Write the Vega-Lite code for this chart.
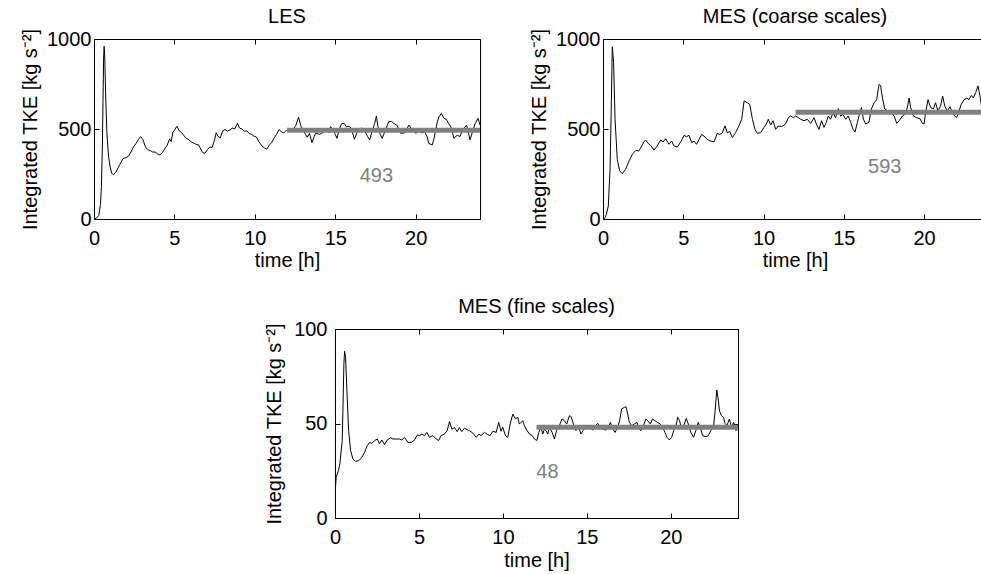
{
  "$schema": "https://vega.github.io/schema/vega-lite/v6.json",
  "padding": {"left": 20, "top": 7, "right": 0, "bottom": 0},
  "datasets": {
    "les": [
      {"t":0,"v":0},{"t":0.15,"v":5},{"t":0.3,"v":20},{"t":0.4,"v":80},{"t":0.46,"v":180},{"t":0.52,"v":400},{"t":0.56,"v":663},{"t":0.6,"v":900},{"t":0.63,"v":960},{"t":0.67,"v":900},{"t":0.72,"v":700},{"t":0.8,"v":480},{"t":0.9,"v":350},{"t":1.0,"v":290},{"t":1.1,"v":255},{"t":1.2,"v":245},{"t":1.35,"v":258},{"t":1.5,"v":285},{"t":1.65,"v":310},{"t":1.8,"v":335},{"t":2.0,"v":342},{"t":2.15,"v":350},{"t":2.3,"v":372},{"t":2.45,"v":400},{"t":2.6,"v":418},{"t":2.75,"v":440},{"t":2.9,"v":458},{"t":3.05,"v":440},{"t":3.2,"v":400},{"t":3.35,"v":385},{"t":3.5,"v":380},{"t":3.65,"v":372},{"t":3.8,"v":372},{"t":3.95,"v":362},{"t":4.1,"v":356},{"t":4.25,"v":368},{"t":4.4,"v":390},{"t":4.55,"v":410},{"t":4.7,"v":445},{"t":4.8,"v":430},{"t":4.9,"v":480},{"t":5.05,"v":500},{"t":5.15,"v":515},{"t":5.3,"v":490},{"t":5.45,"v":480},{"t":5.6,"v":462},{"t":5.75,"v":448},{"t":5.9,"v":440},{"t":6.05,"v":428},{"t":6.2,"v":422},{"t":6.35,"v":415},{"t":6.5,"v":412},{"t":6.6,"v":395},{"t":6.75,"v":370},{"t":6.9,"v":365},{"t":7.05,"v":385},{"t":7.2,"v":400},{"t":7.35,"v":398},{"t":7.5,"v":440},{"t":7.6,"v":480},{"t":7.7,"v":460},{"t":7.85,"v":450},{"t":8.0,"v":490},{"t":8.15,"v":497},{"t":8.3,"v":488},{"t":8.45,"v":495},{"t":8.6,"v":505},{"t":8.75,"v":500},{"t":8.92,"v":532},{"t":9.05,"v":505},{"t":9.2,"v":500},{"t":9.35,"v":488},{"t":9.5,"v":490},{"t":9.65,"v":475},{"t":9.8,"v":470},{"t":9.95,"v":460},{"t":10.1,"v":455},{"t":10.25,"v":430},{"t":10.45,"v":405},{"t":10.6,"v":395},{"t":10.75,"v":388},{"t":10.9,"v":410},{"t":11.05,"v":425},{"t":11.2,"v":450},{"t":11.35,"v":470},{"t":11.5,"v":497},{"t":11.65,"v":485},{"t":11.8,"v":478},{"t":12.0,"v":496},{"t":12.2,"v":494},{"t":12.4,"v":500},{"t":12.55,"v":520},{"t":12.72,"v":565},{"t":12.85,"v":520},{"t":13.0,"v":495},{"t":13.15,"v":470},{"t":13.25,"v":455},{"t":13.4,"v":475},{"t":13.55,"v":424},{"t":13.7,"v":460},{"t":13.8,"v":478},{"t":14.0,"v":470},{"t":14.15,"v":475},{"t":14.3,"v":485},{"t":14.45,"v":500},{"t":14.6,"v":480},{"t":14.7,"v":513},{"t":14.85,"v":500},{"t":15.0,"v":470},{"t":15.11,"v":448},{"t":15.25,"v":500},{"t":15.4,"v":530},{"t":15.55,"v":531},{"t":15.7,"v":512},{"t":15.85,"v":515},{"t":16.0,"v":505},{"t":16.19,"v":443},{"t":16.35,"v":480},{"t":16.5,"v":500},{"t":16.65,"v":505},{"t":16.8,"v":495},{"t":17.0,"v":460},{"t":17.14,"v":439},{"t":17.3,"v":490},{"t":17.45,"v":530},{"t":17.56,"v":572},{"t":17.65,"v":515},{"t":17.8,"v":470},{"t":17.92,"v":448},{"t":18.1,"v":490},{"t":18.33,"v":541},{"t":18.5,"v":542},{"t":18.65,"v":530},{"t":18.85,"v":520},{"t":19.06,"v":476},{"t":19.3,"v":478},{"t":19.45,"v":500},{"t":19.58,"v":522},{"t":19.75,"v":500},{"t":19.9,"v":485},{"t":20.0,"v":476},{"t":20.2,"v":488},{"t":20.4,"v":478},{"t":20.55,"v":485},{"t":20.7,"v":460},{"t":20.82,"v":420},{"t":21.03,"v":411},{"t":21.15,"v":450},{"t":21.24,"v":494},{"t":21.35,"v":540},{"t":21.45,"v":568},{"t":21.6,"v":587},{"t":21.76,"v":559},{"t":21.9,"v":555},{"t":22.05,"v":530},{"t":22.2,"v":510},{"t":22.38,"v":448},{"t":22.5,"v":460},{"t":22.6,"v":465},{"t":22.75,"v":458},{"t":22.9,"v":490},{"t":23.05,"v":510},{"t":23.17,"v":522},{"t":23.3,"v":470},{"t":23.38,"v":439},{"t":23.55,"v":490},{"t":23.7,"v":530},{"t":23.88,"v":559},{"t":24.0,"v":522}
    ],
    "coarse": [
      {"t":0,"v":0},{"t":0.1,"v":3},{"t":0.21,"v":26},{"t":0.33,"v":72},{"t":0.44,"v":276},{"t":0.52,"v":646},{"t":0.58,"v":957},{"t":0.66,"v":869},{"t":0.75,"v":554},{"t":0.89,"v":331},{"t":1.04,"v":267},{"t":1.2,"v":252},{"t":1.41,"v":276},{"t":1.62,"v":322},{"t":1.83,"v":359},{"t":2.04,"v":381},{"t":2.24,"v":378},{"t":2.41,"v":406},{"t":2.55,"v":428},{"t":2.66,"v":439},{"t":2.82,"v":420},{"t":2.97,"v":409},{"t":3.18,"v":383},{"t":3.38,"v":406},{"t":3.59,"v":439},{"t":3.74,"v":428},{"t":3.9,"v":446},{"t":4.11,"v":415},{"t":4.28,"v":433},{"t":4.42,"v":406},{"t":4.63,"v":400},{"t":4.84,"v":428},{"t":5.05,"v":465},{"t":5.19,"v":457},{"t":5.36,"v":465},{"t":5.53,"v":424},{"t":5.67,"v":433},{"t":5.82,"v":415},{"t":5.98,"v":441},{"t":6.15,"v":470},{"t":6.29,"v":461},{"t":6.5,"v":441},{"t":6.71,"v":433},{"t":6.92,"v":428},{"t":7.12,"v":476},{"t":7.27,"v":470},{"t":7.43,"v":478},{"t":7.6,"v":517},{"t":7.75,"v":478},{"t":7.89,"v":487},{"t":8.06,"v":452},{"t":8.27,"v":481},{"t":8.47,"v":517},{"t":8.64,"v":554},{"t":8.79,"v":656},{"t":8.99,"v":646},{"t":9.14,"v":637},{"t":9.31,"v":554},{"t":9.47,"v":498},{"t":9.62,"v":476},{"t":9.82,"v":480},{"t":10.03,"v":509},{"t":10.18,"v":528},{"t":10.3,"v":554},{"t":10.45,"v":522},{"t":10.59,"v":546},{"t":10.76,"v":498},{"t":10.92,"v":517},{"t":11.13,"v":513},{"t":11.38,"v":528},{"t":11.55,"v":563},{"t":11.69,"v":572},{"t":11.86,"v":563},{"t":12.0,"v":572},{"t":12.17,"v":563},{"t":12.32,"v":554},{"t":12.52,"v":546},{"t":12.73,"v":554},{"t":12.94,"v":531},{"t":13.15,"v":563},{"t":13.29,"v":528},{"t":13.46,"v":498},{"t":13.62,"v":546},{"t":13.77,"v":509},{"t":13.91,"v":537},{"t":14.04,"v":572},{"t":14.18,"v":554},{"t":14.33,"v":591},{"t":14.49,"v":563},{"t":14.66,"v":613},{"t":14.81,"v":572},{"t":14.95,"v":581},{"t":15.12,"v":554},{"t":15.28,"v":572},{"t":15.43,"v":537},{"t":15.58,"v":498},{"t":15.7,"v":483},{"t":15.85,"v":537},{"t":15.95,"v":572},{"t":16.1,"v":619},{"t":16.22,"v":554},{"t":16.37,"v":528},{"t":16.57,"v":537},{"t":16.72,"v":611},{"t":16.89,"v":646},{"t":17.05,"v":663},{"t":17.2,"v":748},{"t":17.3,"v":739},{"t":17.41,"v":672},{"t":17.55,"v":611},{"t":17.72,"v":602},{"t":17.93,"v":591},{"t":18.14,"v":572},{"t":18.3,"v":531},{"t":18.45,"v":546},{"t":18.66,"v":572},{"t":18.8,"v":581},{"t":18.96,"v":619},{"t":19.07,"v":672},{"t":19.17,"v":619},{"t":19.34,"v":572},{"t":19.54,"v":563},{"t":19.75,"v":557},{"t":19.9,"v":531},{"t":20.0,"v":528},{"t":20.1,"v":591},{"t":20.25,"v":663},{"t":20.41,"v":619},{"t":20.58,"v":611},{"t":20.72,"v":646},{"t":20.87,"v":600},{"t":21.03,"v":628},{"t":21.16,"v":683},{"t":21.29,"v":628},{"t":21.45,"v":600},{"t":21.62,"v":624},{"t":21.76,"v":591},{"t":21.87,"v":576},{"t":22.03,"v":563},{"t":22.18,"v":600},{"t":22.32,"v":637},{"t":22.49,"v":663},{"t":22.66,"v":672},{"t":22.8,"v":663},{"t":22.95,"v":687},{"t":23.07,"v":672},{"t":23.22,"v":702},{"t":23.36,"v":739},{"t":23.49,"v":683},{"t":23.59,"v":620},{"t":23.7,"v":640}
    ],
    "fine": [
      {"t":0,"v":5},{"t":0.03,"v":16},{"t":0.07,"v":21.5},{"t":0.2,"v":25},{"t":0.29,"v":28.6},{"t":0.43,"v":40.9},{"t":0.49,"v":65},{"t":0.53,"v":81.5},{"t":0.57,"v":88.2},{"t":0.63,"v":85},{"t":0.71,"v":67.4},{"t":0.81,"v":46.2},{"t":0.93,"v":35.6},{"t":1.07,"v":31.2},{"t":1.21,"v":30},{"t":1.41,"v":30.3},{"t":1.6,"v":32.1},{"t":1.76,"v":34.7},{"t":1.92,"v":38.3},{"t":2.06,"v":40},{"t":2.2,"v":39.5},{"t":2.36,"v":41},{"t":2.52,"v":41.8},{"t":2.65,"v":39.2},{"t":2.79,"v":41.3},{"t":2.95,"v":38.8},{"t":3.11,"v":41.3},{"t":3.31,"v":42.4},{"t":3.45,"v":41.8},{"t":3.65,"v":41.8},{"t":3.84,"v":41.8},{"t":3.98,"v":41.3},{"t":4.14,"v":42.7},{"t":4.34,"v":40},{"t":4.54,"v":40},{"t":4.74,"v":41.3},{"t":4.9,"v":43.9},{"t":5.03,"v":43.6},{"t":5.17,"v":44.4},{"t":5.33,"v":43.6},{"t":5.47,"v":45.3},{"t":5.63,"v":42.7},{"t":5.83,"v":43.6},{"t":6.03,"v":41.8},{"t":6.17,"v":41},{"t":6.32,"v":43.6},{"t":6.52,"v":44.4},{"t":6.68,"v":46.2},{"t":6.82,"v":51},{"t":6.96,"v":47},{"t":7.12,"v":47.8},{"t":7.28,"v":45.7},{"t":7.41,"v":47.8},{"t":7.55,"v":45.7},{"t":7.71,"v":47.5},{"t":7.91,"v":46.5},{"t":8.01,"v":46.2},{"t":8.21,"v":44.9},{"t":8.41,"v":42.7},{"t":8.57,"v":44.4},{"t":8.7,"v":43.6},{"t":8.9,"v":45.3},{"t":9.1,"v":44.1},{"t":9.24,"v":43.6},{"t":9.4,"v":45.9},{"t":9.6,"v":45.3},{"t":9.75,"v":50.6},{"t":9.89,"v":45.9},{"t":9.99,"v":48},{"t":10.15,"v":43.6},{"t":10.29,"v":42.7},{"t":10.43,"v":49.7},{"t":10.59,"v":55},{"t":10.75,"v":52.4},{"t":10.88,"v":53.3},{"t":10.98,"v":49.7},{"t":11.08,"v":50.6},{"t":11.18,"v":51.5},{"t":11.28,"v":48.8},{"t":11.42,"v":46.5},{"t":11.58,"v":44.4},{"t":11.74,"v":43.6},{"t":11.88,"v":41.8},{"t":12.02,"v":41},{"t":12.14,"v":45.3},{"t":12.27,"v":48},{"t":12.37,"v":44.4},{"t":12.47,"v":47},{"t":12.57,"v":46.2},{"t":12.67,"v":44.4},{"t":12.77,"v":48},{"t":12.93,"v":45.3},{"t":13.07,"v":41.8},{"t":13.2,"v":46.5},{"t":13.36,"v":48.8},{"t":13.52,"v":52.4},{"t":13.66,"v":51.5},{"t":13.8,"v":49.7},{"t":13.96,"v":54.1},{"t":14.06,"v":53.6},{"t":14.2,"v":49.7},{"t":14.35,"v":46.2},{"t":14.51,"v":48},{"t":14.65,"v":44.4},{"t":14.79,"v":46.5},{"t":14.95,"v":48.8},{"t":15.15,"v":48},{"t":15.35,"v":46.5},{"t":15.51,"v":48.8},{"t":15.65,"v":50.1},{"t":15.78,"v":48},{"t":15.94,"v":47},{"t":16.14,"v":46.5},{"t":16.28,"v":48},{"t":16.4,"v":50.6},{"t":16.54,"v":47},{"t":16.68,"v":45.3},{"t":16.83,"v":48},{"t":16.95,"v":51.5},{"t":17.07,"v":57.7},{"t":17.23,"v":58.5},{"t":17.33,"v":58.9},{"t":17.43,"v":55},{"t":17.53,"v":50.6},{"t":17.67,"v":48.8},{"t":17.82,"v":49.7},{"t":17.98,"v":50.6},{"t":18.12,"v":47},{"t":18.22,"v":46.2},{"t":18.36,"v":48.8},{"t":18.52,"v":52.4},{"t":18.62,"v":51.5},{"t":18.78,"v":49.7},{"t":18.91,"v":52.4},{"t":19.05,"v":51.5},{"t":19.21,"v":50.6},{"t":19.37,"v":49.7},{"t":19.51,"v":48},{"t":19.65,"v":45.3},{"t":19.77,"v":42.7},{"t":19.91,"v":41.3},{"t":20.05,"v":42.7},{"t":20.17,"v":46.2},{"t":20.31,"v":48.8},{"t":20.41,"v":53.3},{"t":20.52,"v":51.5},{"t":20.64,"v":47},{"t":20.8,"v":49.7},{"t":20.92,"v":52.7},{"t":21.04,"v":49.7},{"t":21.19,"v":45.3},{"t":21.35,"v":42.7},{"t":21.49,"v":46.2},{"t":21.63,"v":50.6},{"t":21.75,"v":48},{"t":21.89,"v":43.6},{"t":22.09,"v":43},{"t":22.23,"v":43.6},{"t":22.38,"v":46.2},{"t":22.54,"v":48},{"t":22.62,"v":55},{"t":22.74,"v":67.7},{"t":22.82,"v":63},{"t":22.9,"v":56.6},{"t":23.02,"v":54.1},{"t":23.14,"v":53.3},{"t":23.22,"v":50.1},{"t":23.34,"v":48.8},{"t":23.48,"v":52.4},{"t":23.62,"v":48},{"t":23.74,"v":50.6},{"t":23.88,"v":46.2},{"t":23.98,"v":48}
    ],
    "means": [
      {"panel":"LES","t0":12,"t1":24,"v":493,"label":"493","lt":17.56,"lv":240},
      {"panel":"coarse","t0":12,"t1":24,"v":593,"label":"593","lt":17.55,"lv":290},
      {"panel":"fine","t0":12,"t1":24,"v":48,"label":"48","lt":12.65,"lv":24.3}
    ]
  },
  "spacing": 26,
  "vconcat": [
    {
      "spacing": 48,
      "hconcat": [
        {
          "title": {"text": "LES", "offset": -15, "baseline": "alphabetic", "frame": "group"},
          "width": 386, "height": 180,
          "layer": [
            {"data": {"name": "les"}, "mark": {"type": "line", "color": "black", "strokeWidth": 1, "clip": true},
             "encoding": {
               "x": {"field": "t", "type": "quantitative", "scale": {"domain": [0, 24], "nice": false, "zero": false}, "axis": {"orient": "bottom", "values": [0, 5, 10, 15, 20], "title": "time [h]", "labelFlush": false, "labelPadding": 14.5, "titlePadding": 2}},
               "y": {"field": "v", "type": "quantitative", "scale": {"domain": [0, 1000], "nice": false}, "axis": {"orient": "left", "values": [0, 500, 1000], "format": "d", "title": "Integrated TKE [kg s⁻²]", "labelPadding": 8, "titlePadding": 6}}
             }},
            {"data": {"name": "means"}, "transform": [{"filter": "datum.panel == 'LES'"}], "mark": {"type": "rule", "color": "#808080", "strokeWidth": 5, "clip": true},
             "encoding": {
               "x": {"field": "t0", "type": "quantitative", "scale": {"domain": [0, 24], "nice": false, "zero": false}, "axis": {"orient": "top", "values": [0, 5, 10, 15, 20], "labels": false, "title": null}},
               "x2": {"field": "t1"},
               "y": {"field": "v", "type": "quantitative", "scale": {"domain": [0, 1000], "nice": false}, "axis": {"orient": "right", "values": [0, 500, 1000], "labels": false, "title": null, "minExtent": 0}}
             }},
            {"data": {"name": "means"}, "transform": [{"filter": "datum.panel == 'LES'"}], "mark": {"type": "text", "color": "#808080", "fontSize": 20, "font": "Liberation Sans"},
             "encoding": {
               "x": {"field": "lt", "type": "quantitative", "scale": {"domain": [0, 24], "nice": false, "zero": false}, "axis": null},
               "y": {"field": "lv", "type": "quantitative", "scale": {"domain": [0, 1000], "nice": false}, "axis": null},
               "text": {"field": "label"}
             }}
          ],
          "resolve": {"axis": {"x": "independent", "y": "independent"}}
        },
        {
          "title": {"text": "MES (coarse scales)", "offset": -15, "baseline": "alphabetic", "frame": "group", "dx": 3},
          "width": 378, "height": 180,
          "layer": [
            {"data": {"name": "coarse"}, "mark": {"type": "line", "color": "black", "strokeWidth": 1, "clip": true},
             "encoding": {
               "x": {"field": "t", "type": "quantitative", "scale": {"domain": [0, 23.55], "nice": false, "zero": false}, "axis": {"orient": "bottom", "values": [0, 5, 10, 15, 20], "title": "time [h]", "labelFlush": false, "labelPadding": 14.5, "titlePadding": 2, "titleX": 192}},
               "y": {"field": "v", "type": "quantitative", "scale": {"domain": [0, 1000], "nice": false}, "axis": {"orient": "left", "values": [0, 500, 1000], "format": "d", "title": "Integrated TKE [kg s⁻²]", "labelPadding": 8, "titlePadding": 6}}
             }},
            {"data": {"name": "means"}, "transform": [{"filter": "datum.panel == 'coarse'"}], "mark": {"type": "rule", "color": "#808080", "strokeWidth": 5, "clip": true},
             "encoding": {
               "x": {"field": "t0", "type": "quantitative", "scale": {"domain": [0, 23.55], "nice": false, "zero": false}, "axis": {"orient": "top", "values": [0, 5, 10, 15, 20], "labels": false, "title": null}},
               "x2": {"field": "t1"},
               "y": {"field": "v", "type": "quantitative", "scale": {"domain": [0, 1000], "nice": false}, "axis": null}
             }},
            {"data": {"name": "means"}, "transform": [{"filter": "datum.panel == 'coarse'"}], "mark": {"type": "text", "color": "#808080", "fontSize": 20, "font": "Liberation Sans"},
             "encoding": {
               "x": {"field": "lt", "type": "quantitative", "scale": {"domain": [0, 23.55], "nice": false, "zero": false}, "axis": null},
               "y": {"field": "lv", "type": "quantitative", "scale": {"domain": [0, 1000], "nice": false}, "axis": null},
               "text": {"field": "label"}
             }}
          ],
          "resolve": {"axis": {"x": "independent", "y": "independent"}}
        }
      ]
    },
    {
      "spacing": 0,
      "hconcat": [
        {"width": 170, "height": 10, "data": {"values": [{"a": 1}]}, "mark": {"type": "point", "opacity": 0}},
        {
          "title": {"text": "MES (fine scales)", "offset": -14, "baseline": "alphabetic", "frame": "group"},
          "width": 403, "height": 189,
          "layer": [
            {"data": {"name": "fine"}, "mark": {"type": "line", "color": "black", "strokeWidth": 1, "clip": true},
             "encoding": {
               "x": {"field": "t", "type": "quantitative", "scale": {"domain": [0, 24], "nice": false, "zero": false}, "axis": {"orient": "bottom", "values": [0, 5, 10, 15, 20], "title": "time [h]", "labelFlush": false, "labelPadding": 14.5, "titlePadding": 3}},
               "y": {"field": "v", "type": "quantitative", "scale": {"domain": [0, 100], "nice": false}, "axis": {"orient": "left", "values": [0, 50, 100], "format": "d", "title": "Integrated TKE [kg s⁻²]", "labelPadding": 13, "titlePadding": 9}}
             }},
            {"data": {"name": "means"}, "transform": [{"filter": "datum.panel == 'fine'"}], "mark": {"type": "rule", "color": "#808080", "strokeWidth": 5, "clip": true},
             "encoding": {
               "x": {"field": "t0", "type": "quantitative", "scale": {"domain": [0, 24], "nice": false, "zero": false}, "axis": {"orient": "top", "values": [0, 5, 10, 15, 20], "labels": false, "title": null}},
               "x2": {"field": "t1"},
               "y": {"field": "v", "type": "quantitative", "scale": {"domain": [0, 100], "nice": false}, "axis": {"orient": "right", "values": [0, 50, 100], "labels": false, "title": null, "minExtent": 0}}
             }},
            {"data": {"name": "means"}, "transform": [{"filter": "datum.panel == 'fine'"}], "mark": {"type": "text", "color": "#808080", "fontSize": 20, "font": "Liberation Sans"},
             "encoding": {
               "x": {"field": "lt", "type": "quantitative", "scale": {"domain": [0, 24], "nice": false, "zero": false}, "axis": null},
               "y": {"field": "lv", "type": "quantitative", "scale": {"domain": [0, 100], "nice": false}, "axis": null},
               "text": {"field": "label"}
             }}
          ],
          "resolve": {"axis": {"x": "independent", "y": "independent"}}
        }
      ]
    }
  ],
  "config": {
    "font": "Liberation Sans",
    "view": {"stroke": null},
    "axis": {"labelFont": "Liberation Sans", "labelFontSize": 20, "labelColor": "#000", "titleFont": "Liberation Sans", "titleFontSize": 20, "titleFontWeight": "normal", "titleColor": "#000", "domainColor": "#000", "tickColor": "#000", "grid": false, "tickSize": -5, "domainWidth": 1, "tickWidth": 1},
    "title": {"font": "Liberation Sans", "fontSize": 20, "fontWeight": "normal", "color": "#000"}
  }
}
